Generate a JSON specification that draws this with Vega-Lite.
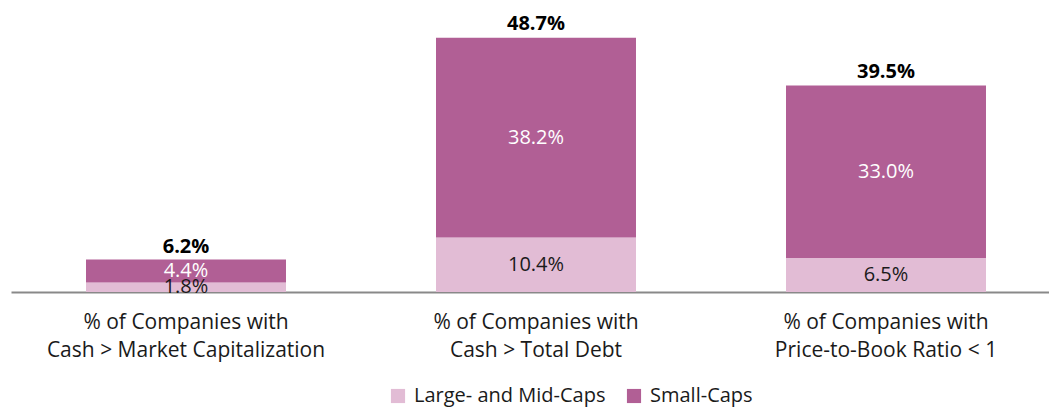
{
  "$schema": "https://vega.github.io/schema/vega-lite/v6.json",
  "autosize": "none",
  "width": 1050,
  "height": 272,
  "padding": {"left": 11, "top": 20, "right": 0, "bottom": 115},
  "background": "white",
  "config": {"view": {"stroke": null}, "font": "Open Sans"},
  "datasets": {
    "segments": [
      {"category": "% of Companies with|Cash > Market Capitalization", "series": "Large- and Mid-Caps", "order": 1, "value": 0.018},
      {"category": "% of Companies with|Cash > Market Capitalization", "series": "Small-Caps", "order": 2, "value": 0.044},
      {"category": "% of Companies with|Cash > Total Debt", "series": "Large- and Mid-Caps", "order": 1, "value": 0.104},
      {"category": "% of Companies with|Cash > Total Debt", "series": "Small-Caps", "order": 2, "value": 0.382},
      {"category": "% of Companies with|Price-to-Book Ratio < 1", "series": "Large- and Mid-Caps", "order": 1, "value": 0.065},
      {"category": "% of Companies with|Price-to-Book Ratio < 1", "series": "Small-Caps", "order": 2, "value": 0.330}
    ],
    "totals": [
      {"category": "% of Companies with|Cash > Market Capitalization", "total": 0.062},
      {"category": "% of Companies with|Cash > Total Debt", "total": 0.487},
      {"category": "% of Companies with|Price-to-Book Ratio < 1", "total": 0.395}
    ]
  },
  "encoding": {
    "x": {
      "field": "category", "type": "nominal", "sort": null,
      "scale": {"paddingInner": 0.4286, "paddingOuter": 0.2143},
      "axis": {
        "title": null, "labelAngle": 0, "ticks": false,
        "domainColor": "#898989", "domainWidth": 2, "labelLimit": 0,
        "labelFontSize": 21, "labelColor": "#1a1a1a", "labelPadding": 19,
        "labelLineHeight": 28, "labelExpr": "split(datum.label, '|')"
      }
    }
  },
  "layer": [
    {
      "data": {"name": "segments"},
      "mark": {"type": "bar"},
      "encoding": {
        "y": {"field": "value", "type": "quantitative", "stack": "zero",
              "scale": {"domain": [0, 0.52], "nice": false}, "axis": null},
        "color": {
          "field": "series", "type": "nominal",
          "scale": {"domain": ["Large- and Mid-Caps", "Small-Caps"], "range": ["#E2BCD5", "#B15F95"]},
          "legend": {
            "title": null, "orient": "none", "direction": "horizontal",
            "legendX": 377, "legendY": 366, "symbolType": "square", "symbolSize": 200,
            "symbolStrokeWidth": 0, "labelFontSize": 20, "labelColor": "#1a1a1a",
            "labelLimit": 0, "columnPadding": 18, "labelOffset": 6
          }
        },
        "order": {"field": "order"}
      }
    },
    {
      "data": {"name": "segments"},
      "transform": [
        {"stack": "value", "groupby": ["category"], "sort": [{"field": "order"}], "as": ["v0", "v1"]},
        {"calculate": "(datum.v0 + datum.v1) / 2", "as": "mid"}
      ],
      "mark": {"type": "text", "fontSize": 20, "baseline": "middle"},
      "encoding": {
        "y": {"field": "mid", "type": "quantitative"},
        "text": {"field": "value", "type": "quantitative", "format": ".1%"},
        "color": {
          "condition": {"test": "datum.series === 'Small-Caps'", "value": "white"},
          "value": "#1a1a1a"
        }
      }
    },
    {
      "data": {"name": "totals"},
      "mark": {"type": "text", "fontSize": 20, "fontWeight": "bold", "baseline": "bottom", "dy": -3, "color": "#000000"},
      "encoding": {
        "y": {"field": "total", "type": "quantitative"},
        "text": {"field": "total", "type": "quantitative", "format": ".1%"}
      }
    }
  ]
}
